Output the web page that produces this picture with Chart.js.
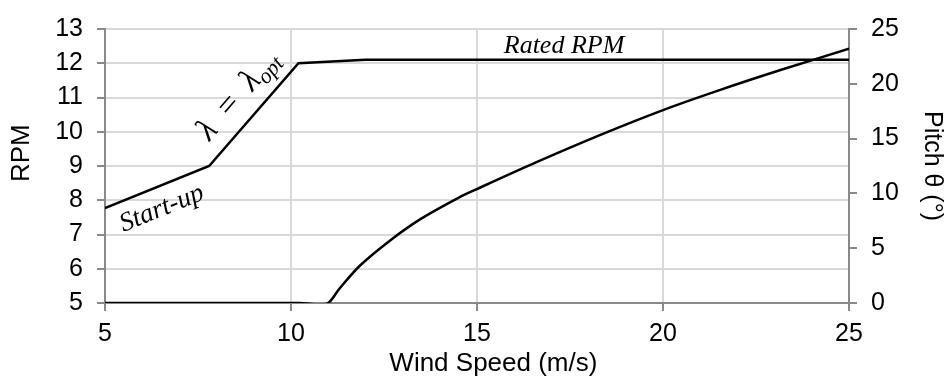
<!DOCTYPE html>
<html><head><meta charset="utf-8">
<script src="https://cdn.jsdelivr.net/npm/chart.js@4.4.1/dist/chart.umd.min.js"></script>
<style>html,body{margin:0;padding:0;background:#fff;} canvas{display:block;}</style>
</head><body>
<canvas id="c" width="946" height="380"></canvas>
<script>
// ---- data ----
const rpmWind = [5, 7.8, 10.2, 12, 25];
const rpmValues = [7.77, 9.0, 12.0, 12.1, 12.1];
const pitchWind = [5, 10, 10.25, 10.7, 11, 11.3, 11.85, 12.7, 13.5, 14.5, 15, 16.6, 18.4, 20, 21.5, 23.2, 25];
const pitchValues = [0, 0, 0, -0.12, 0, 1.3, 3.4, 5.8, 7.7, 9.6, 10.4, 12.85, 15.45, 17.6, 19.4, 21.3, 23.2];
const xTicks = [5, 10, 15, 20, 25];
const rpmTicks = [5, 6, 7, 8, 9, 10, 11, 12, 13];
const pitchTicks = [0, 5, 10, 15, 20, 25];

// texts
const xTitle = 'Wind Speed (m/s)';
const yTitle = 'RPM';
const y2Title = 'Pitch θ (°)';
const ratedText = 'Rated RPM';
const startText = 'Start-up';
const lambdaParts = ['λ', '=', 'λ'];
const lambdaSub = 'opt';

// annotation anchors (data coordinates)
const ratedAnchor = {x: 17.34, y: 12.31};
const startAnchor = {x: 6.6, y: 7.56};
const lambdaAnchor = {x: 8.76, y: 10.9};
const xTitleAnchor = 15.44;   // wind speed at title centre
const yTitleAnchor = 9.375;   // RPM at title centre

const AX = '#898989', GRID = '#d9d9d9';
const SANS = '"Liberation Sans", Arial, sans-serif';
const SERIF = '"Liberation Serif", "Times New Roman", serif';
const tickFont = {family: SANS, size: 25};

function segAngle(chart, i) {
  const x = chart.scales.x, y = chart.scales.y;
  const dx = x.getPixelForValue(rpmWind[i+1]) - x.getPixelForValue(rpmWind[i]);
  const dy = y.getPixelForValue(rpmValues[i+1]) - y.getPixelForValue(rpmValues[i]);
  return Math.atan2(dy, dx);
}

const annot = {
  id: 'annot',
  afterDatasetsDraw(chart) {
    const {ctx, scales: {x, y}} = chart;
    ctx.save();
    ctx.fillStyle = '#000';
    ctx.textBaseline = 'alphabetic';
    // Rated RPM
    ctx.font = 'italic 26px ' + SERIF;
    ctx.textAlign = 'center';
    ctx.fillText(ratedText, x.getPixelForValue(ratedAnchor.x), y.getPixelForValue(ratedAnchor.y));
    // Start-up
    ctx.save();
    ctx.translate(x.getPixelForValue(startAnchor.x), y.getPixelForValue(startAnchor.y));
    ctx.rotate(segAngle(chart, 0));
    ctx.font = 'italic 27px ' + SERIF;
    ctx.fillText(startText, 0, 0);
    ctx.restore();
    // lambda = lambda_opt
    ctx.save();
    ctx.translate(x.getPixelForValue(lambdaAnchor.x), y.getPixelForValue(lambdaAnchor.y));
    ctx.rotate(segAngle(chart, 1));
    ctx.textAlign = 'left';
    const mainFont = 'italic 33px ' + SERIF, subFont = 'italic 22px ' + SERIF;
    ctx.font = mainFont;
    const ws = lambdaParts.map(t => ctx.measureText(t).width);
    ctx.font = subFont;
    const wsub = ctx.measureText(lambdaSub).width;
    const total = 108;
    const gap = Math.max(2, (total - ws.reduce((a, b) => a + b, 0) - wsub) / 2);
    let pos = -total / 2;
    ctx.font = mainFont;
    lambdaParts.forEach((t, i) => {
      ctx.fillText(t, pos, 0);
      pos += ws[i] + (i < 2 ? gap : 0);
    });
    ctx.font = subFont;
    ctx.fillText(lambdaSub, pos, 6);
    ctx.restore();
    ctx.restore();
  },
  afterDraw(chart) {
    const {ctx, scales: {x, y}} = chart;
    ctx.save();
    ctx.fillStyle = '#000';
    ctx.font = '26px ' + SANS;
    ctx.textAlign = 'center';
    ctx.textBaseline = 'middle';
    ctx.fillText(xTitle, x.getPixelForValue(xTitleAnchor), chart.height - 16);
    ctx.translate(22, y.getPixelForValue(yTitleAnchor));
    ctx.rotate(-Math.PI / 2);
    ctx.fillText(yTitle, 0, 0);
    ctx.restore();
  }
};

new Chart(document.getElementById('c'), {
  type: 'line',
  data: {
    datasets: [
      {
        label: 'RPM',
        data: rpmWind.map((w, i) => ({x: w, y: rpmValues[i]})),
        yAxisID: 'y',
        borderColor: '#000', borderWidth: 2.5, pointRadius: 0, tension: 0, fill: false
      },
      {
        label: 'Pitch',
        data: pitchWind.map((w, i) => ({x: w, y: pitchValues[i]})),
        yAxisID: 'y2',
        borderColor: '#000', borderWidth: 2.5, pointRadius: 0, tension: 0.3, fill: false
      }
    ]
  },
  options: {
    responsive: false,
    animation: false,
    devicePixelRatio: 1,
    layout: {padding: {top: 24, left: 0, right: 0, bottom: 0}},
    plugins: {legend: {display: false}, tooltip: {enabled: false}},
    scales: {
      x: {
        type: 'linear', min: 5, max: 25,
        afterFit: s => { s.height = 77; },
        afterBuildTicks: s => { s.ticks = xTicks.map(v => ({value: v})); },
        ticks: {font: tickFont, color: '#000', padding: 8, maxRotation: 0},
        grid: {color: GRID, lineWidth: 2, tickColor: AX, tickLength: 8, tickWidth: 2},
        border: {color: AX, width: 2}
      },
      y: {
        type: 'linear', position: 'left', min: 5, max: 13,
        afterFit: s => { s.width = 105; },
        afterBuildTicks: s => { s.ticks = rpmTicks.map(v => ({value: v})); },
        ticks: {font: tickFont, color: '#000', padding: 14},
        grid: {color: GRID, lineWidth: 2, tickColor: AX, tickLength: 8, tickWidth: 2},
        border: {color: AX, width: 2}
      },
      y2: {
        type: 'linear', position: 'right', min: 0, max: 25,
        afterFit: s => { s.width = 97; },
        afterBuildTicks: s => { s.ticks = pitchTicks.map(v => ({value: v})); },
        ticks: {font: tickFont, color: '#000', padding: 14},
        grid: {drawOnChartArea: false, color: AX, tickColor: AX, tickLength: 8, lineWidth: 2},
        border: {color: AX, width: 2},
        title: {display: true, text: y2Title, font: {family: SANS, size: 25, lineHeight: 1.1}, color: '#000', padding: {top: 0, bottom: 0}}
      }
    }
  },
  plugins: [annot]
});
</script>
</body></html>
